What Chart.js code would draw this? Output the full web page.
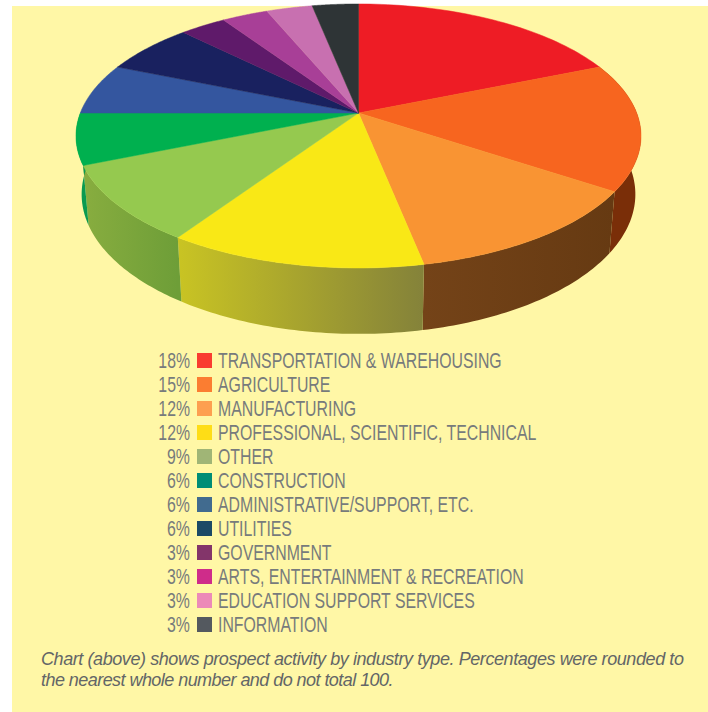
<!DOCTYPE html>
<html>
<head>
<meta charset="utf-8">
<script src="https://cdn.jsdelivr.net/npm/chart.js@4"></script>
<style>
  html, body { margin: 0; padding: 0; background: #fff; }
  #panel { position: absolute; left: 12px; top: 6px; width: 696px; height: 706px; background: #fff7a6; }
  #pie { position: absolute; left: 0; top: 0; }
  .row { position: absolute; left: 0; height: 24px; line-height: 24px; white-space: nowrap;
         font-family: "Liberation Sans", sans-serif; font-size: 22px; color: #777b7c; }
  .pct { position: absolute; right: -190px; transform: scaleX(0.72); transform-origin: right center; }
  .box { position: absolute; left: 197px; top: 4px; width: 15px; height: 15px; }
  .name { position: absolute; left: 218px; transform: scaleX(0.72); transform-origin: left center; }
  .note { position: absolute; left: 41px; height: 21px; white-space: nowrap;
          font: italic 18px/21px "Liberation Sans", sans-serif; color: #636667; letter-spacing: -0.42px; }
</style>
</head>
<body>
<div id="panel"></div>
<canvas id="pie" width="708" height="345"></canvas>
<div id="legend"></div>
<div class="note" style="top:649px">Chart (above) shows prospect activity by industry type. Percentages were rounded to</div>
<div class="note" style="top:670px; letter-spacing:-0.55px">the nearest whole number and do not total 100.</div>
<script>
const categories = ['TRANSPORTATION & WAREHOUSING', 'AGRICULTURE', 'MANUFACTURING', 'PROFESSIONAL, SCIENTIFIC, TECHNICAL',
  'OTHER', 'CONSTRUCTION', 'ADMINISTRATIVE/SUPPORT, ETC.', 'UTILITIES', 'GOVERNMENT',
  'ARTS, ENTERTAINMENT & RECREATION', 'EDUCATION SUPPORT SERVICES', 'INFORMATION'];
const values = [18, 15, 12, 12, 9, 6, 6, 6, 3, 3, 3, 3];
const sliceColors = ['#ee1c25', '#f7651f', '#f99433', '#f9e816', '#95c94f', '#00b04f',
  '#34569f', '#19215f', '#5f1a6a', '#a83f97', '#c870b0', '#2e3436'];
const legendColors = ['#f93c30', '#fb7d31', '#fd9f50', '#fedd16', '#a0b576', '#008d76',
  '#416b8f', '#1c4a66', '#83356a', '#cf2c8a', '#ec8ab8', '#54595f'];
// side wall colours, [left end, right end] of each visible slice
const wallColors = {
  1: ['#7a2e08', '#7a2e08'],
  2: ['#744318', '#663a12'],
  3: ['#c9c423', '#84823a'],
  4: ['#88ad3f', '#6e9e38'],
  5: ['#0a9a50', '#0a9a50']
};

// perspective of the disc, apex is not at the middle of the ellipse
const apexX = 358.5, apexY = 113, scaleA = 278.2, scaleB = 128, persp = 0.174;
const wallDepth = 57, bottomShrink = 0.98;

function project(a, shrink, drop) {
  const X = Math.cos(a), Y = Math.sin(a);
  const w = 1 - persp * Y;
  return {
    x: apexX + shrink * scaleA * X / w,
    y: apexY + shrink * scaleB * Y / w + drop / w
  };
}

const tiltedPie = {
  id: 'tiltedPie',
  beforeDatasetDraw(chart, args) {
    const ctx = chart.ctx;
    const arcs = args.meta.data;
    const steps = 48;

    // walls first, top face covers what is hidden
    arcs.forEach((arc, i) => {
      if (!wallColors[i]) return;
      const s = arc.startAngle, e = arc.endAngle;
      ctx.beginPath();
      for (let n = 0; n <= steps; n++) {
        const p = project(s + (e - s) * n / steps, 1, 0);
        n ? ctx.lineTo(p.x, p.y) : ctx.moveTo(p.x, p.y);
      }
      for (let n = steps; n >= 0; n--) {
        const p = project(s + (e - s) * n / steps, bottomShrink, wallDepth);
        ctx.lineTo(p.x, p.y);
      }
      ctx.closePath();
      const p1 = project(s, 1, 0), p2 = project(e, 1, 0);
      const g = ctx.createLinearGradient(Math.min(p1.x, p2.x), 0, Math.max(p1.x, p2.x), 0);
      g.addColorStop(0, wallColors[i][0]);
      g.addColorStop(1, wallColors[i][1]);
      ctx.fillStyle = g;
      ctx.fill();
    });

    // top face, same angles as the library's arc elements
    arcs.forEach((arc, i) => {
      const s = arc.startAngle, e = arc.endAngle;
      ctx.beginPath();
      ctx.moveTo(apexX, apexY);
      for (let n = 0; n <= steps; n++) {
        const p = project(s + (e - s) * n / steps, 1, 0);
        ctx.lineTo(p.x, p.y);
      }
      ctx.closePath();
      ctx.fillStyle = sliceColors[i];
      ctx.strokeStyle = sliceColors[i];
      ctx.lineWidth = 0.5;
      ctx.fill();
      ctx.stroke();
    });
    return false;
  }
};

new Chart(document.getElementById('pie').getContext('2d'), {
  type: 'pie',
  data: {
    labels: categories,
    datasets: [{ data: values, backgroundColor: sliceColors, borderWidth: 0 }]
  },
  options: {
    responsive: false,
    animation: false,
    plugins: { legend: { display: false }, tooltip: { enabled: false } }
  },
  plugins: [tiltedPie]
});

const legend = document.getElementById('legend');
categories.forEach((name, i) => {
  const row = document.createElement('div');
  row.className = 'row';
  row.style.top = (349 + i * 24) + 'px';
  row.innerHTML = '<span class="pct"></span><span class="box"></span><span class="name"></span>';
  row.querySelector('.pct').textContent = values[i] + '%';
  row.querySelector('.box').style.background = legendColors[i];
  row.querySelector('.name').textContent = name;
  legend.appendChild(row);
});
</script>
</body>
</html>
